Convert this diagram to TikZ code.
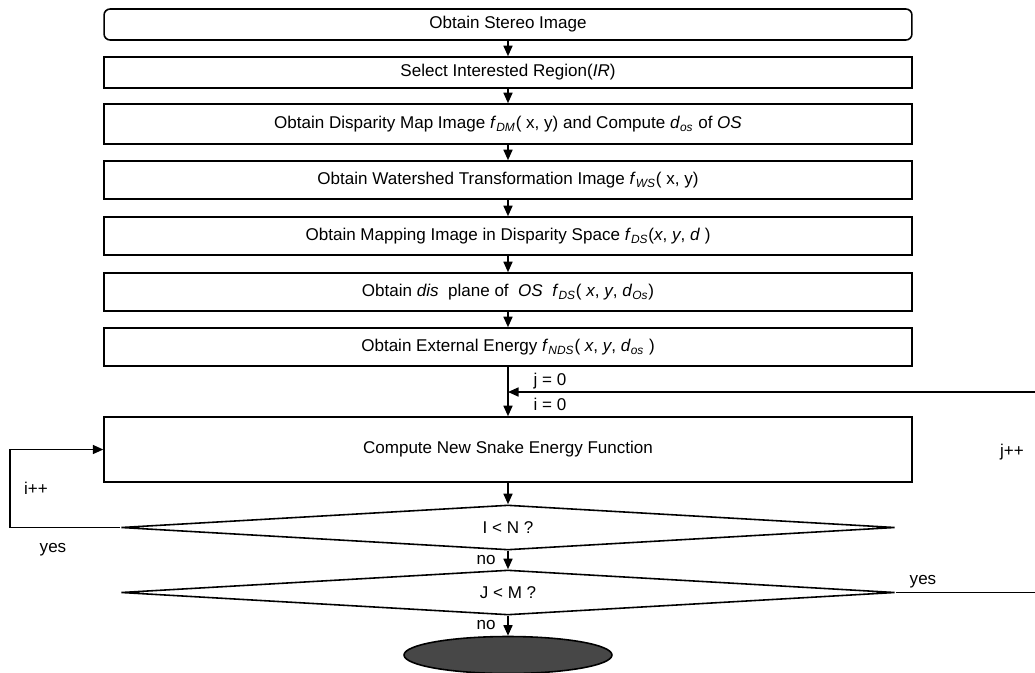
\documentclass[tikz,border=0pt]{standalone}
\usepackage{fontspec}
\setmainfont{Liberation Sans}
\usetikzlibrary{arrows.meta,shapes.geometric}
\newcommand{\fsb}[2]{\textit{#1}\textsubscript{\textit{#2}}}
\begin{document}
\begin{tikzpicture}[x=0.02cm,y=-0.02cm,
  every node/.style={font=\fontsize{9.7}{11}\selectfont},
  lw/.style={line width=0.9pt},
  box/.style={draw, lw, rectangle, minimum width=16.16cm, inner sep=0pt},
  decision/.style={draw, lw, diamond, aspect=12, inner sep=0pt, minimum width=15.48cm, minimum height=0.9cm},
  arr/.style={lw, -{Triangle[length=0.21cm,width=0.18cm]}},
  lbl/.style={inner sep=1pt}]
\useasboundingbox (0,0) rectangle (1035,673);
\node[box, rounded corners=0.12cm, minimum height=0.62cm] (b1) at (508,24.5) {Obtain Stereo Image};
\node[box, minimum height=0.62cm] (b2) at (508,72.5) {Select Interested Region(\textit{IR})};
\node[box, minimum height=0.8cm] (b3) at (508,124) {Obtain Disparity Map Image \fsb{f}{DM}( x, y) and Compute \fsb{d}{os} of \textit{OS}};
\node[box, minimum height=0.76cm] (b4) at (508,180) {Obtain Watershed Transformation Image \fsb{f}{WS}( x, y)};
\node[box, minimum height=0.76cm] (b5) at (508,236) {Obtain Mapping Image in Disparity Space \fsb{f}{DS}(\textit{x}, \textit{y}, \textit{d} )};
\node[box, minimum height=0.76cm] (b6) at (508,292) {Obtain \textit{dis}\ \ plane of\ \ \textit{OS}\ \ \fsb{f}{DS}( \textit{x}, \textit{y}, \fsb{d}{Os})};
\node[box, minimum height=0.76cm] (b7) at (508,347) {Obtain External Energy \fsb{f}{NDS}( \textit{x}, \textit{y}, \fsb{d}{os} )};
\node[box, minimum height=1.3cm] (cmp) at (508,449.5) {Compute New Snake Energy Function};
\node[decision] (d1) at (508,527.5) {I < N ?};
\node[decision] (d2) at (508,592.5) {J < M ?};
\node[draw, lw, ellipse, fill=black!72, minimum width=4.16cm, minimum height=0.74cm, inner sep=0pt] (end) at (508,655) {};
\coordinate (m) at (508,392);
\coordinate (rt) at (1037,592.5);
\coordinate (rr) at (1037,392);
\coordinate (lb) at (10,527.5);
\coordinate (lt) at (10,449.5);
\draw[arr] (b1) -- (b2);
\draw[arr] (b2) -- (b3);
\draw[arr] (b3) -- (b4);
\draw[arr] (b4) -- (b5);
\draw[arr] (b5) -- (b6);
\draw[arr] (b6) -- (b7);
\draw[arr] (b7) -- (cmp);
\draw[arr] (cmp) -- (d1);
\draw[arr] (d1) -- (d2);
\draw[arr] (d2) -- (end);
\draw[arr] (d1.west) -- (lb) -- (lt) -- (cmp.west);
\draw[arr] (d2.east) -- (rt) -- (rr) -- (m);
\node[lbl] (lj0) at (550,381) {j = 0};
\node[lbl] (li0) at (550,404) {i = 0};
\node[lbl] (lip) at (36,488) {i++};
\node[lbl] (ly1) at (53,550) {yes};
\node[lbl] (ljp) at (1012,452) {j++};
\node[lbl] (ly2) at (923,582) {yes};
\node[lbl] (ln1) at (486,560) {no};
\node[lbl] (ln2) at (486,625) {no};
\end{tikzpicture}
\end{document}
